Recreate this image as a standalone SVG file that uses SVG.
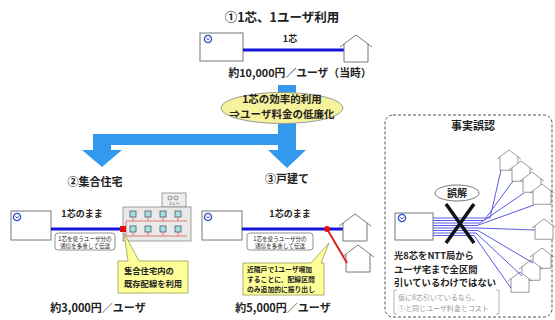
<svg xmlns="http://www.w3.org/2000/svg" width="555" height="320" viewBox="0 0 555 320">
  <style>
    text { font-family: "Noto Sans CJK JP", "Noto Sans", sans-serif; fill: #222; }
    .b { font-weight: 700; }
    .office { fill: #fff; stroke: #777; stroke-width: 1; }
    .icon { fill: #fff; stroke: #2f4fd0; stroke-width: 1.3; }
    .fiber { stroke: #1414d8; stroke-width: 3; fill: none; }
    .thin { stroke: #5a5ae6; stroke-width: 1; fill: none; }
    .note { fill: #ffff99; stroke: #9a9a55; stroke-width: 0.8; }
    .tag { fill: #fff; stroke: #777; stroke-width: 0.8; }
    .red { stroke: #e02020; fill: none; }
  </style>
  <defs>
    <g id="house">
      <polygon points="-12,27 -12,9 0,0 12,9 12,27" fill="#fff"/>
      <path d="M-16,12 L0,0 L16,12 M-12,9 V27 H12 V9" fill="none" stroke="#777" stroke-width="1"/>
    </g>
    <g id="officeIcon">
      <circle r="3.6" class="icon"/>
      <path d="M-1.6,-0.6 A1.7,1.7 0 0 0 1.6,-0.6" fill="none" stroke="#2f4fd0" stroke-width="1"/>
    </g>
  </defs>

  <!-- case 1: one core per user -->
  <g id="case1">
    <text x="282" y="22" text-anchor="middle" font-size="12.5" class="b">①1芯、1ユーザ利用</text>
    <rect x="200" y="33" width="43" height="28" class="office"/>
    <use href="#officeIcon" x="208" y="39"/>
    <line x1="243" y1="50" x2="344" y2="50" class="fiber"/>
    <text x="290" y="42" text-anchor="middle" font-size="9" class="b">1芯</text>
    <use href="#house" x="356" y="35"/>
    <text x="300" y="77" text-anchor="middle" font-size="10.8" class="b">約10,000円／ユーザ（当時）</text>
  </g>

  <!-- branching arrow -->
  <g id="connectors">
    <path d="M278,85 H296 V150 H306 L287,168 L268,150 H278 V145 H111 V150 H122 L102,167 L82,150 H93 V134 H278 Z" fill="#3399ee"/>
  </g>

  <g id="goal">
    <ellipse cx="282" cy="108" rx="61" ry="15.5" fill="#f7f29c" stroke="#999" stroke-width="1"/>
    <text x="282" y="102.5" text-anchor="middle" font-size="10.5" class="b">1芯の効率的利用</text>
    <text x="282" y="118" text-anchor="middle" font-size="10.5" class="b">⇒ユーザ料金の低廉化</text>
  </g>

  <!-- case 2: apartment building -->
  <g id="case2">
    <text x="95" y="186" text-anchor="middle" font-size="11" class="b">②集合住宅</text>
    <rect x="11" y="211" width="40" height="29" class="office"/>
    <use href="#officeIcon" x="17" y="217"/>
    <line x1="51" y1="229" x2="122" y2="229" class="fiber"/>
    <text x="82" y="217" text-anchor="middle" font-size="9" class="b">1芯のまま</text>
    <rect x="55" y="233" width="60" height="17" rx="3" class="tag"/>
    <text x="85" y="240.5" text-anchor="middle" font-size="5.6">1芯を使うユーザ分の</text>
    <text x="85" y="247.5" text-anchor="middle" font-size="5.6">通信を多重して伝送</text>

    <rect x="162" y="193" width="24" height="14" fill="#eee" stroke="#888" stroke-width="0.8"/>
    <circle cx="170" cy="198" r="2" fill="none" stroke="#666" stroke-width="0.7"/>
    <circle cx="176" cy="198" r="2" fill="none" stroke="#666" stroke-width="0.7"/>
    <text x="174" y="205" text-anchor="middle" font-size="3.5" fill="#666">エレベ</text>
    <rect x="123" y="207" width="68" height="34" fill="#e9e9e9" stroke="#888" stroke-width="0.8"/>
    <g fill="#a3e1e3" stroke="#445" stroke-width="0.7">
      <rect x="130" y="211" width="6" height="6"/><rect x="145" y="211" width="6" height="6"/>
      <rect x="160" y="211" width="6" height="6"/><rect x="175" y="211" width="6" height="6"/>
      <rect x="130" y="226" width="6" height="6"/><rect x="145" y="226" width="6" height="6"/>
      <rect x="160" y="226" width="6" height="6"/><rect x="175" y="226" width="6" height="6"/>
    </g>
    <path d="M126,229 V221 H187 M133,221 V217 M148,221 V217 M163,221 V217 M178,221 V217 M126,229 V236 H187 M133,236 V232 M148,236 V232 M163,236 V232 M178,236 V232" class="red" stroke-width="0.7" opacity="0.8"/>
    <rect x="120" y="226" width="6" height="6" fill="#e01010"/>

    <path d="M118,261 H128 L124,233 L139,261 H188 V293 H118 Z" class="note"/>
    <text x="124" y="274" font-size="8.3" class="b">集合住宅内の</text>
    <text x="124" y="287" font-size="8.3" class="b">既存配線を利用</text>
    <text x="98" y="312" text-anchor="middle" font-size="11" class="b">約3,000円／ユーザ</text>
  </g>

  <!-- case 3: detached houses -->
  <g id="case3">
    <text x="287" y="183" text-anchor="middle" font-size="11" class="b">③戸建て</text>
    <rect x="202" y="211" width="40" height="29" class="office"/>
    <use href="#officeIcon" x="208" y="217"/>
    <line x1="242" y1="229" x2="343" y2="229" class="fiber"/>
    <text x="290" y="217" text-anchor="middle" font-size="9" class="b">1芯のまま</text>
    <rect x="247" y="233" width="66" height="17" rx="3" class="tag"/>
    <text x="280" y="240.5" text-anchor="middle" font-size="5.6">1芯を使うユーザ分の</text>
    <text x="280" y="247.5" text-anchor="middle" font-size="5.6">通信を多重して伝送</text>
    <use href="#house" x="355" y="214"/>
    <use href="#house" x="358" y="245"/>
    <line x1="327" y1="229" x2="347" y2="263" class="red" stroke-width="2"/>
    <circle cx="327" cy="229" r="3" fill="#e01010"/>

    <path d="M243,263 H311 L329,243 L321,263 H324 V295 H243 Z" class="note"/>
    <text x="247" y="272" font-size="6.8" class="b">近隣戸で1ユーザ増加</text>
    <text x="247" y="282" font-size="6.8" class="b">することに、配線区間</text>
    <text x="247" y="292" font-size="6.8" class="b">のみ追加的に振り出し</text>
    <text x="283" y="312" text-anchor="middle" font-size="11" class="b">約5,000円／ユーザ</text>
  </g>

  <!-- misconception panel -->
  <g id="misconception">
    <rect x="385" y="115" width="167" height="202" rx="8" fill="none" stroke="#555" stroke-width="1" stroke-dasharray="3,2"/>
    <text x="473" y="130" text-anchor="middle" font-size="11" class="b">事実誤認</text>

    <g transform="translate(509,150) scale(0.75)"><use href="#house"/></g>
    <g transform="translate(521,161) scale(0.75)"><use href="#house"/></g>
    <g transform="translate(532,172) scale(0.75)"><use href="#house"/></g>
    <g transform="translate(542,184) scale(0.75)"><use href="#house"/></g>
    <g transform="translate(544,219) scale(0.75)"><use href="#house"/></g>
    <g transform="translate(542,248) scale(0.75)"><use href="#house"/></g>
    <g transform="translate(531,260) scale(0.75)"><use href="#house"/></g>
    <g transform="translate(520,272) scale(0.75)"><use href="#house"/></g>

    <rect x="395" y="213" width="38" height="27" class="office"/>
    <use href="#officeIcon" x="402" y="218"/>
    <g class="thin">
      <polyline points="433,218 490,218 501,170"/>
      <polyline points="433,220.5 484,220.5 513,181"/>
      <polyline points="433,223 480,223 524,193"/>
      <polyline points="433,225.5 477,225.5 534,205"/>
      <polyline points="433,228 478,228 535,230"/>
      <polyline points="433,230.5 478,230.5 533,263"/>
      <polyline points="433,233 476,233 522,276"/>
      <polyline points="433,235.5 474,235.5 511,288"/>
    </g>

    <ellipse cx="457" cy="193" rx="22" ry="8" fill="#fff" stroke="#666" stroke-width="0.9"/>
    <text x="457" y="197" text-anchor="middle" font-size="10" class="b">誤解</text>
    <path d="M446,204 L474,243 M474,204 L446,243" stroke="#111" stroke-width="3.5" fill="none"/>

    <text x="394" y="259" font-size="9.3" class="b">光8芯をNTT局から</text>
    <text x="394" y="272.5" font-size="9.3" class="b">ユーザ宅まで全区間</text>
    <text x="394" y="286" font-size="9.3" class="b">引いているわけではない</text>
    <path d="M397,290 H394 V314 H397 M496,290 H499 V314 H496" fill="none" stroke="#aaa" stroke-width="0.9"/>
    <text x="398" y="300" font-size="7" style="fill:#999">仮に8芯引いているなら、</text>
    <text x="398" y="311" font-size="7" style="fill:#999">①と同じユーザ料金とコスト</text>
  </g>
</svg>
